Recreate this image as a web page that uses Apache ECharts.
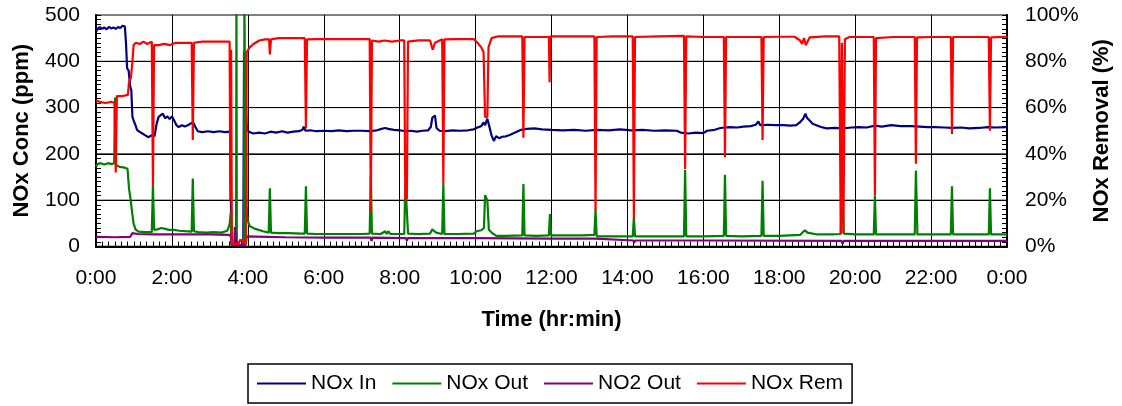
<!DOCTYPE html>
<html>
<head>
<meta charset="utf-8">
<script src="https://cdn.jsdelivr.net/npm/echarts@6/dist/echarts.min.js"></script>
<style>
  html, body { margin: 0; padding: 0; background: #fff; }
  #chart { width: 1122px; height: 406px; }
</style>
</head>
<body>
<div id="chart"></div>
<script>
// time axis labels, one every 2 hours (24:00 shown as 0:00)
var timeLabels = ['0:00', '2:00', '4:00', '6:00', '8:00', '10:00', '12:00',
  '14:00', '16:00', '18:00', '20:00', '22:00', '0:00'];

// horizontal gridlines on the ppm axis
var gridLevels = [100, 200, 300, 400];
var timeRange = [0, 24];

// [hour, ppm]
var noxIn = [
  [0.00, 463], [0.04, 470], [0.10, 474], [0.16, 470], [0.22, 473], [0.28, 469], [0.34, 474],
  [0.40, 471], [0.46, 473], [0.52, 470], [0.58, 474], [0.64, 472], [0.70, 477], [0.76, 475],
  [0.79, 440], [0.82, 385], [0.86, 380], [0.90, 346], [0.93, 338], [0.96, 280], [1.00, 270],
  [1.04, 262], [1.08, 252], [1.14, 248], [1.22, 244], [1.30, 240], [1.38, 236], [1.46, 240],
  [1.54, 238], [1.60, 266], [1.65, 280], [1.70, 276], [1.76, 287], [1.82, 277], [1.88, 281],
  [1.94, 275], [2.00, 281], [2.06, 272], [2.12, 262], [2.18, 258], [2.26, 262], [2.34, 259],
  [2.42, 262], [2.50, 266], [2.56, 268], [2.62, 258], [2.68, 249], [2.80, 247], [2.95, 249],
  [3.10, 247], [3.25, 249], [3.40, 247], [3.53, 248], [3.57, 4], [3.70, 2], [3.88, 2],
  [3.90, 421], [3.93, 335], [3.97, 262], [4.02, 248], [4.15, 244], [4.30, 246], [4.45, 244],
  [4.60, 248], [4.75, 246], [4.90, 249], [5.05, 246], [5.20, 248], [5.35, 249], [5.44, 252],
  [5.47, 259], [5.52, 250], [5.65, 251], [5.80, 249], [6.00, 250], [6.20, 249], [6.40, 251],
  [6.60, 249], [6.80, 250], [7.00, 250], [7.20, 249], [7.40, 251], [7.52, 254], [7.62, 256],
  [7.70, 254], [7.85, 252], [8.00, 251], [8.15, 249], [8.30, 250], [8.45, 248], [8.60, 250],
  [8.75, 251], [8.82, 258], [8.86, 278], [8.93, 283], [8.97, 256], [9.05, 250], [9.20, 249],
  [9.40, 251], [9.60, 250], [9.80, 251], [9.95, 253], [10.05, 257], [10.15, 260], [10.21, 268],
  [10.25, 262], [10.31, 276], [10.36, 260], [10.42, 240], [10.48, 228], [10.54, 238], [10.62, 234],
  [10.70, 237], [10.80, 238], [10.90, 241], [11.04, 246], [11.20, 252], [11.35, 254], [11.55, 255],
  [11.75, 253], [12.00, 252], [12.30, 251], [12.60, 252], [12.90, 250], [13.20, 252], [13.50, 251],
  [13.80, 253], [14.10, 251], [14.40, 252], [14.70, 250], [15.00, 251], [15.30, 250], [15.40, 246],
  [15.60, 244], [15.80, 246], [16.00, 245], [16.10, 250], [16.30, 252], [16.45, 256], [16.70, 258],
  [16.90, 257], [17.05, 259], [17.25, 260], [17.38, 263], [17.45, 270], [17.50, 262], [17.70, 263],
  [17.90, 262], [18.10, 262], [18.30, 261], [18.45, 262], [18.54, 268], [18.63, 276], [18.69, 287],
  [18.73, 278], [18.80, 272], [18.88, 265], [18.98, 262], [19.10, 258], [19.25, 255], [19.45, 256],
  [19.70, 255], [19.90, 257], [20.10, 258], [20.30, 257], [20.52, 261], [20.70, 259], [20.95, 262],
  [21.20, 260], [21.48, 260], [21.70, 259], [21.90, 258], [22.10, 258], [22.35, 257], [22.55, 256],
  [22.80, 257], [23.00, 255], [23.25, 256], [23.50, 258], [23.70, 257], [24.00, 258]
];

var noxOut = [
  [0.00, 172], [0.04, 178], [0.12, 180], [0.22, 177], [0.32, 180], [0.42, 178], [0.48, 180],
  [0.50, 322], [0.53, 176], [0.62, 172], [0.72, 171], [0.83, 168], [0.87, 125], [0.91, 103],
  [0.95, 75], [0.99, 50], [1.04, 37], [1.12, 32], [1.30, 31], [1.47, 31], [1.50, 132], [1.53, 36],
  [1.62, 37], [1.72, 40], [1.82, 38], [1.92, 36], [2.05, 36], [2.20, 34], [2.35, 33], [2.52, 32],
  [2.55, 147], [2.58, 33], [2.70, 31], [2.90, 30], [3.10, 31], [3.30, 30], [3.46, 34], [3.52, 48],
  [3.55, 74], [3.57, 3], [3.69, 3], [3.70, 560], [3.71, 3], [3.90, 3], [3.91, 560], [3.92, 390],
  [3.95, 330], [3.97, 85], [4.00, 55], [4.05, 44], [4.20, 38], [4.40, 33], [4.55, 30], [4.58, 126],
  [4.61, 30], [4.80, 29], [5.10, 29], [5.40, 28], [5.50, 28], [5.53, 130], [5.56, 28], [5.80, 27],
  [6.10, 27], [6.50, 27], [7.00, 27], [7.21, 28], [7.24, 153], [7.27, 28], [7.50, 27], [7.62, 33],
  [7.66, 27], [7.70, 33], [7.75, 27], [8.12, 27], [8.15, 140], [8.19, 140], [8.22, 28], [8.50, 27],
  [8.80, 28], [8.86, 37], [8.90, 41], [8.96, 30], [9.12, 27], [9.15, 135], [9.18, 27], [9.50, 27],
  [9.95, 28], [10.03, 33], [10.15, 35], [10.22, 40], [10.25, 111], [10.31, 100], [10.35, 36],
  [10.45, 28], [10.55, 23], [10.80, 23], [11.23, 24], [11.26, 135], [11.29, 24], [11.60, 23],
  [11.93, 24], [11.96, 70], [11.99, 24], [12.40, 24], [12.80, 24], [13.13, 25], [13.16, 80],
  [13.19, 22], [13.60, 22], [14.14, 22], [14.17, 62], [14.20, 22], [14.80, 22], [15.49, 22],
  [15.52, 165], [15.55, 22], [16.00, 22], [16.54, 23], [16.57, 155], [16.60, 23], [17.00, 22],
  [17.53, 23], [17.56, 142], [17.59, 23], [18.00, 23], [18.55, 25], [18.62, 31], [18.68, 35],
  [18.74, 30], [19.00, 26], [19.40, 26], [19.62, 27], [19.66, 146], [19.70, 28], [20.00, 26],
  [20.49, 26], [20.52, 110], [20.55, 26], [21.00, 26], [21.57, 26], [21.60, 164], [21.64, 26],
  [22.00, 26], [22.52, 26], [22.55, 130], [22.58, 26], [23.00, 26], [23.52, 26], [23.55, 126],
  [23.58, 26], [24.00, 26]
];

var no2Out = [
  [0.00, 21], [0.50, 20], [0.90, 21], [0.96, 29], [1.10, 27], [1.50, 26], [2.00, 26], [2.50, 26],
  [3.00, 26], [3.50, 25], [3.56, 22], [3.58, 3], [3.64, 3], [3.66, 42], [3.68, 18], [3.72, 3],
  [3.94, 3], [3.97, 22], [4.50, 21], [5.00, 20], [6.00, 19], [7.24, 19], [7.26, 12], [7.28, 19],
  [8.17, 18], [8.19, 12], [8.21, 18], [10.00, 18], [12.00, 17], [13.15, 17], [13.20, 13],
  [14.16, 13], [14.18, 8], [14.20, 13], [16.00, 13], [19.64, 12], [19.67, 6], [19.70, 12],
  [24.00, 12]
];

// [hour, %]
var noxRem = [
  [0.00, 63], [0.10, 62.5], [0.25, 62], [0.40, 62.5], [0.49, 62], [0.52, 32], [0.55, 65], [0.70, 65],
  [0.84, 65.5], [0.87, 71], [0.92, 73], [0.96, 80], [0.99, 87], [1.05, 88], [1.15, 87.5], [1.25, 88.5],
  [1.35, 87.5], [1.47, 88.5], [1.50, 26], [1.53, 87], [1.65, 87], [1.80, 87.5], [1.95, 87], [2.10, 88],
  [2.30, 88], [2.52, 88], [2.55, 46], [2.58, 88], [2.80, 88.5], [3.00, 88.5], [3.20, 88.5], [3.40, 88.5],
  [3.52, 88.5], [3.54, 20], [3.56, 85], [3.58, 1], [3.75, 1], [3.80, 3], [3.95, 1], [3.97, 84],
  [4.05, 86], [4.15, 87.5], [4.30, 89], [4.45, 89.5], [4.56, 89.5], [4.58, 83], [4.61, 89.5],
  [4.80, 90], [5.10, 90], [5.30, 90], [5.50, 90], [5.53, 51], [5.56, 89.5], [5.80, 89.6], [6.20, 89.6],
  [6.60, 89.6], [7.00, 89.6], [7.21, 89.6], [7.24, 15], [7.27, 89], [7.45, 88.5], [7.60, 89],
  [7.80, 88.5], [8.00, 89], [8.12, 89], [8.15, 20], [8.19, 21], [8.22, 88.5], [8.50, 89], [8.80, 89],
  [8.87, 85], [8.93, 88], [9.12, 89.5], [9.15, 27], [9.18, 89.5], [9.50, 89.6], [9.95, 89.6],
  [10.05, 88], [10.15, 86], [10.21, 84], [10.25, 56], [10.31, 56], [10.34, 86], [10.42, 90],
  [10.60, 90.8], [10.90, 90.8], [11.23, 90.8], [11.26, 47], [11.29, 90.5], [11.60, 90.5],
  [11.93, 90.5], [11.95, 71], [11.97, 90.8], [12.40, 90.8], [12.80, 90.8], [13.13, 90.8],
  [13.16, 15.5], [13.19, 90.5], [13.60, 90.8], [14.14, 90.8], [14.17, 12], [14.20, 90.5],
  [14.80, 90.8], [15.49, 91], [15.52, 33.5], [15.55, 90.8], [16.00, 90.5], [16.54, 90.5],
  [16.57, 38.6], [16.60, 90.5], [17.00, 90.5], [17.53, 90.5], [17.56, 46], [17.59, 90.5],
  [18.00, 90.6], [18.40, 90.6], [18.55, 89], [18.60, 87.5], [18.65, 90], [18.70, 87], [18.80, 90.3],
  [19.20, 90.8], [19.58, 90.8], [19.62, 5.5], [19.65, 88], [19.69, 5.5], [19.73, 89.5], [19.85, 90.5],
  [20.49, 90.5], [20.52, 22], [20.55, 90], [21.00, 90.5], [21.57, 90.5], [21.60, 35.7], [21.63, 90.3],
  [22.00, 90.5], [22.52, 90.5], [22.55, 48.6], [22.58, 90.5], [23.00, 90.5], [23.52, 90.5],
  [23.55, 50], [23.58, 90.3], [24.00, 90.6]
];

var FONT = 'Liberation Sans, Arial, sans-serif';
var chart = echarts.init(document.getElementById('chart'));

function line(name, data, color, axis) {
  return {
    name: name,
    type: 'line',
    data: data,
    yAxisIndex: axis,
    showSymbol: false,
    symbol: 'none',
    animation: false,
    lineStyle: { color: color, width: 2.2 },
    itemStyle: { color: color }
  };
}

// each axis gets its own objects (echarts merges into them)
function ticks() {
  return { show: true, inside: true, length: 5, lineStyle: { color: '#000', width: 1 } };
}
function minor(n) {
  return { show: true, splitNumber: n, length: 5, lineStyle: { color: '#000', width: 1 } };
}

// horizontal gridlines as plain helper series under the data
// (y axis splitLines do not come out in this two-axis grid)
var gridSeries = gridLevels.map(function (v) {
  return {
    type: 'line',
    yAxisIndex: 0,
    z: 1,
    silent: true,
    symbol: 'none',
    animation: false,
    tooltip: { show: false },
    lineStyle: { color: '#000', width: 1 },
    data: timeRange.map(function (t) { return [t, v]; })
  };
});

chart.setOption({
  animation: false,
  textStyle: { fontFamily: FONT },
  grid: {
    left: 96, top: 15, right: 115, bottom: 159.5,
    show: true, borderColor: '#808080', borderWidth: 2
  },
  legend: {
    left: 248, top: 364,
    icon: 'rect', itemWidth: 49, itemHeight: 2, itemGap: 16,
    padding: [9, 9],
    borderColor: '#000', borderWidth: 1.5,
    textStyle: { fontSize: 21, color: '#000', fontFamily: FONT },
    data: ['NOx In', 'NOx Out', 'NO2 Out', 'NOx Rem']
  },
  xAxis: {
    type: 'value', min: 0, max: 24, interval: 2,
    name: 'Time (hr:min)', nameLocation: 'middle', nameGap: 62,
    nameTextStyle: { fontSize: 22, fontWeight: 'bold', color: '#000', fontFamily: FONT },
    axisLine: { show: true, onZero: false, lineStyle: { color: '#000', width: 2 } },
    axisTick: ticks(),
    minorTick: minor(12),
    splitLine: { show: true, lineStyle: { color: '#000', width: 1 } },
    axisLabel: {
      fontSize: 21, color: '#000', margin: 21, fontFamily: FONT,
      formatter: function (v) { return timeLabels[Math.round(v / 2)]; }
    }
  },
  yAxis: [{
    type: 'value', min: 0, max: 500, interval: 100, position: 'left',
    name: 'NOx Conc (ppm)', nameLocation: 'middle', nameGap: 63, nameRotate: 90,
    nameTextStyle: { fontSize: 22, fontWeight: 'bold', color: '#000', fontFamily: FONT },
    axisLine: { show: true, onZero: false, lineStyle: { color: '#000', width: 2 } },
    axisTick: ticks(),
    minorTick: minor(10),
    splitLine: { show: true, showMinLine: false, showMaxLine: false, lineStyle: { color: '#000', width: 1 } },
    axisLabel: { fontSize: 21, color: '#000', margin: 16, fontFamily: FONT }
  }, {
    type: 'value', min: 0, max: 100, interval: 20, position: 'right',
    name: 'NOx Removal (%)', nameLocation: 'middle', nameGap: 84, nameRotate: 90,
    nameTextStyle: { fontSize: 22, fontWeight: 'bold', color: '#000', fontFamily: FONT },
    axisLine: { show: true, onZero: false, lineStyle: { color: '#000', width: 2 } },
    axisTick: ticks(),
    minorTick: minor(10),
    splitLine: { show: false },
    axisLabel: { fontSize: 21, color: '#000', margin: 18, fontFamily: FONT, formatter: '{value}%' }
  }],
  series: gridSeries.concat([
    line('NOx In', noxIn, '#000080', 0),
    line('NOx Out', noxOut, '#008000', 0),
    line('NO2 Out', no2Out, '#800080', 0),
    line('NOx Rem', noxRem, '#ff0000', 1)
  ])
});
</script>
</body>
</html>
